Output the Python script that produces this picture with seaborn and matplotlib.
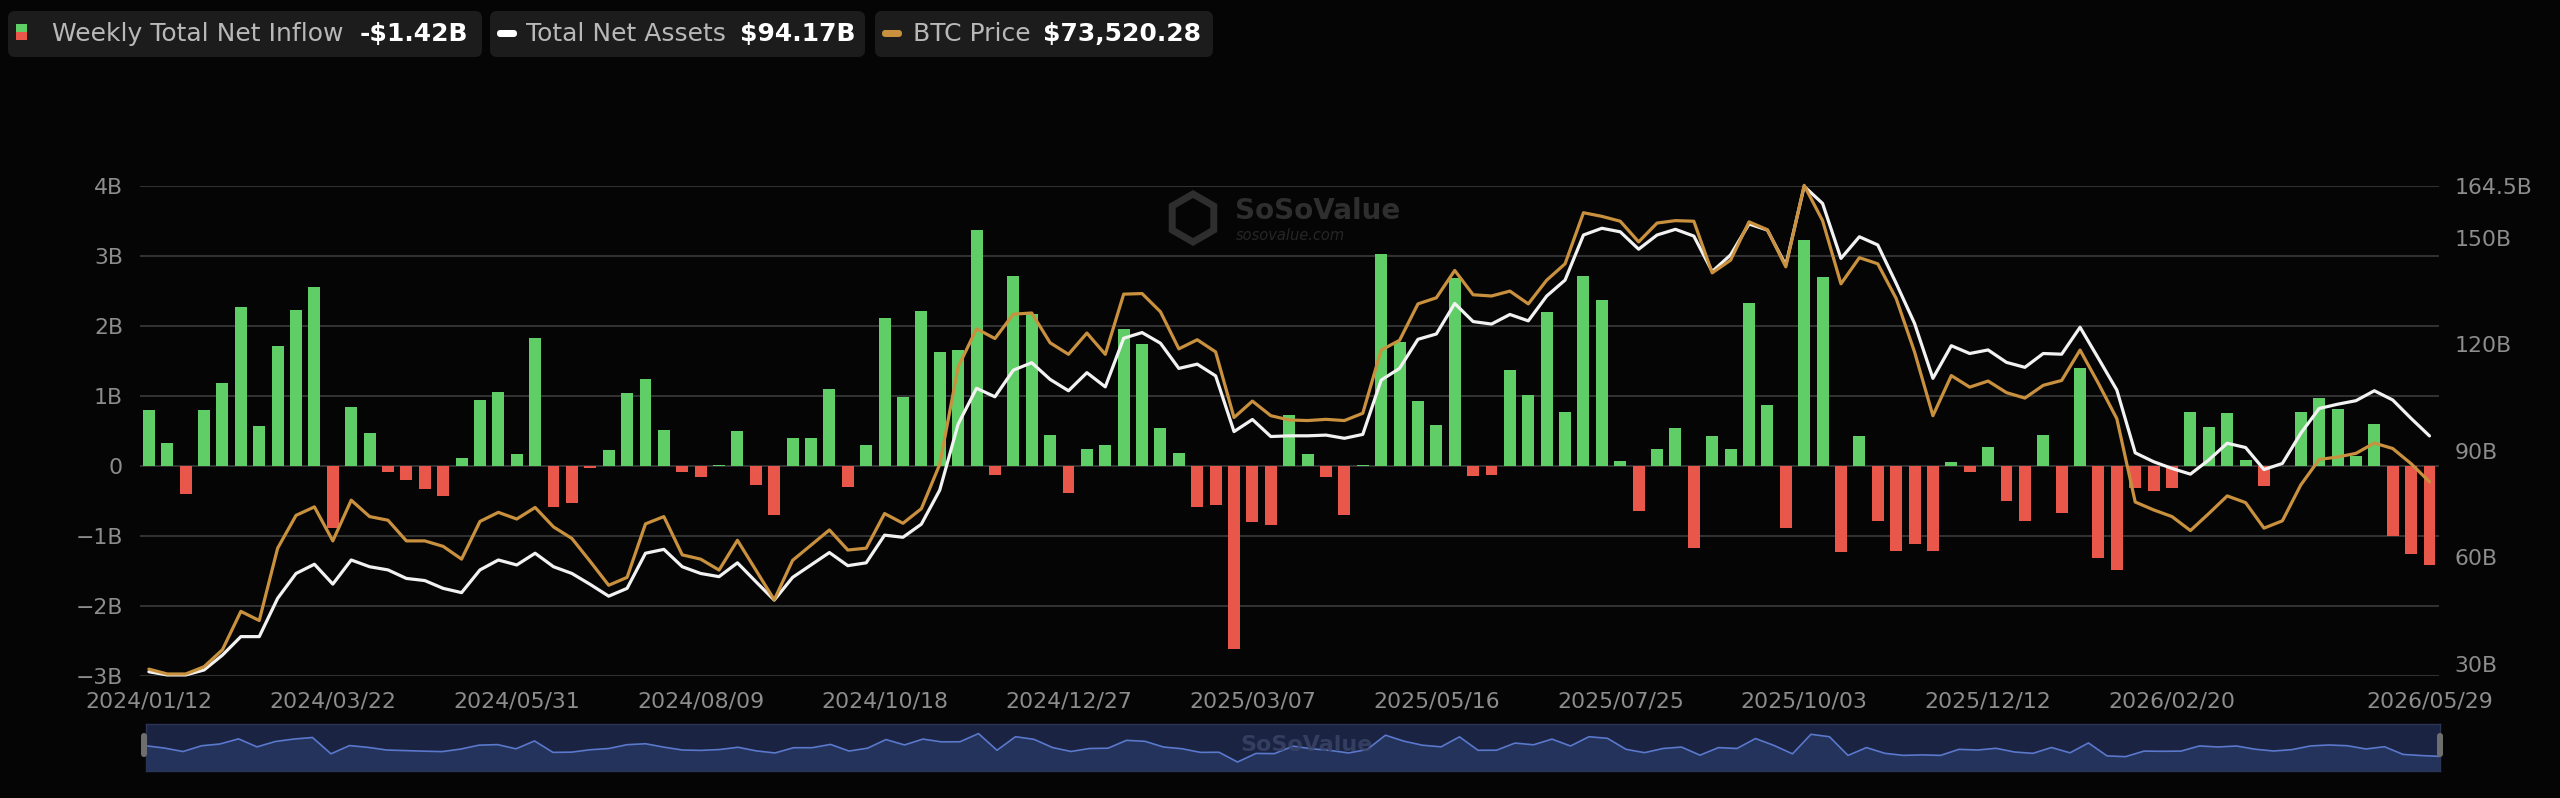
import numpy as np
import pandas as pd
import matplotlib
matplotlib.use("Agg")
import matplotlib.pyplot as plt
import seaborn as sns
from matplotlib.patches import FancyBboxPatch, RegularPolygon
from matplotlib.transforms import IdentityTransform

# weekly spot BTC ETF data, 2024/01/12 .. 2026/05/29
weeks = pd.date_range("2024-01-12", periods=125, freq="7D")

net_inflow_b = [
    0.81, 0.33, -0.40, 0.81, 1.19, 2.27, 0.58, 1.72, 2.23, 2.56,
    -0.88, 0.85, 0.48, -0.08, -0.20, -0.32, -0.42, 0.11, 0.94, 1.06,
    0.17, 1.83, -0.58, -0.53, -0.03, 0.23, 1.04, 1.24, 0.52, -0.08,
    -0.16, 0.02, 0.50, -0.27, -0.70, 0.40, 0.40, 1.10, -0.30, 0.30,
    2.12, 0.99, 2.22, 1.63, 1.66, 3.38, -0.13, 2.72, 2.17, 0.44,
    -0.39, 0.24, 0.30, 1.96, 1.75, 0.55, 0.19, -0.58, -0.55, -2.61,
    -0.80, -0.84, 0.73, 0.18, -0.16, -0.70, 0.01, 3.04, 1.78, 0.93,
    0.59, 2.69, -0.14, -0.12, 1.38, 1.02, 2.21, 0.77, 2.72, 2.38,
    0.07, -0.64, 0.24, 0.54, -1.17, 0.43, 0.24, 2.34, 0.88, -0.89,
    3.23, 2.71, -1.22, 0.43, -0.78, -1.21, -1.11, -1.21, 0.06, -0.08,
    0.28, -0.50, -0.78, 0.45, -0.67, 1.41, -1.32, -1.48, -0.31, -0.35,
    -0.31, 0.78, 0.56, 0.76, 0.09, -0.29, 0.00, 0.78, 0.98, 0.82,
    0.14, 0.61, -1.00, -1.25, -1.42,
]

total_assets_b = [
    27.7, 26.8, 26.8, 28.2, 32.4, 37.6, 37.6, 48.4, 55.4, 58.0,
    52.4, 59.2, 57.3, 56.4, 54.0, 53.4, 51.2, 50.0, 56.4, 59.2,
    57.8, 61.1, 57.3, 55.4, 52.3, 49.0, 51.2, 61.1, 62.2, 57.3,
    55.4, 54.5, 58.4, 53.1, 47.9, 54.3, 57.8, 61.3, 57.6, 58.4,
    66.2, 65.6, 69.3, 78.9, 97.5, 107.6, 105.2, 112.7, 114.8, 110.1,
    106.9, 112.0, 108.0, 121.7, 123.3, 120.3, 113.2, 114.4, 111.1, 95.4,
    98.8, 94.0, 94.2, 94.2, 94.4, 93.5, 94.6, 109.9, 113.2, 121.4,
    122.9, 131.5, 126.4, 125.7, 128.4, 126.6, 133.6, 138.1, 150.8, 152.7,
    151.7, 146.8, 150.8, 152.4, 150.5, 140.5, 145.2, 153.9, 152.2, 142.3,
    164.5, 159.7, 144.2, 150.3, 148.0, 137.2, 125.9, 110.4, 119.6, 117.4,
    118.4, 114.9, 113.5, 117.4, 117.2, 124.8, 116.0, 107.1, 89.4, 86.9,
    85.0, 83.4, 87.4, 92.1, 90.9, 84.7, 86.4, 94.9, 101.9, 103.1,
    104.1, 106.9, 104.3, 99.1, 94.17,
]

btc_price_k = [
    42.7, 41.9, 41.9, 43.1, 45.9, 52.2, 50.7, 62.6, 68.0, 69.4,
    63.8, 70.5, 67.8, 67.2, 63.8, 63.8, 62.9, 60.8, 67.0, 68.5,
    67.4, 69.3, 66.1, 64.2, 60.4, 56.5, 57.8, 66.6, 67.8, 61.5,
    60.8, 59.0, 63.9, 59.0, 54.1, 60.6, 63.1, 65.6, 62.3, 62.6,
    68.3, 66.7, 69.1, 76.4, 92.4, 98.7, 97.1, 101.1, 101.3, 96.4,
    94.5, 98.0, 94.5, 104.4, 104.5, 101.5, 95.4, 96.9, 94.9, 84.1,
    86.8, 84.4, 83.7, 83.6, 83.8, 83.6, 84.8, 95.2, 96.8, 102.8,
    103.8, 108.3, 104.3, 104.1, 104.9, 102.8, 106.7, 109.4, 117.8, 117.2,
    116.4, 113.0, 116.1, 116.5, 116.4, 107.9, 110.0, 116.3, 115.0, 108.9,
    122.3, 116.5, 106.1, 110.4, 109.4, 103.7, 94.9, 84.4, 91.0, 89.1,
    90.1, 88.2, 87.3, 89.4, 90.2, 95.2, 89.7, 83.9, 70.2, 68.9,
    67.8, 65.5, 68.3, 71.2, 70.1, 65.9, 67.1, 73.0, 77.2, 77.6,
    78.2, 79.9, 79.0, 76.5, 73.52,
]

left_ticks = [-3, -2, -1, 0, 1, 2, 3, 4]
left_labels = ["\u22123B", "\u22122B", "\u22121B", "0", "1B", "2B", "3B", "4B"]
right_ticks = [30, 60, 90, 120, 150, 164.5]
right_labels = ["30B", "60B", "90B", "120B", "150B", "164.5B"]
xtick_pos = list(range(0, 111, 10)) + [124]

BG = "#050505"
GREEN = "#5fce66"
RED = "#e8574a"
WHITE = "#f2f2f2"
GOLD = "#c9913e"
GRID = "#363636"
TICK = "#8d8d8d"

W, H = 2560, 798

sns.set_theme(style="dark", rc={"axes.facecolor": BG, "figure.facecolor": BG})
plt.rcParams["font.family"] = ["DejaVu Sans"]


def px_box(x0, y0, x1, y1):
    return [x0 / W, 1 - y1 / H, (x1 - x0) / W, (y1 - y0) / H]


idx = np.arange(len(weeks))
inflow = np.array(net_inflow_b)
df = pd.DataFrame({
    "week": idx,
    "inflow": inflow,
    "sign": np.where(inflow >= 0, "in", "out"),
    "assets": total_assets_b,
    "btc": np.array(btc_price_k) * 1000,
})

fig = plt.figure(figsize=(W / 100, H / 100), dpi=100, facecolor=BG)
ax = fig.add_axes(px_box(139.7, 186.4, 2438.7, 676))

# 1. Weekly net inflow bars
sns.barplot(data=df, x="week", y="inflow", hue="sign",
            palette={"in": GREEN, "out": RED}, dodge=False, native_scale=True,
            width=0.65, errorbar=None, legend=False, saturation=1,
            linewidth=0, ax=ax)
ax.set_ylim(-3, 4)
ax.set_yticks(left_ticks)
ax.set_yticklabels(left_labels)
ax.grid(axis="y", color=GRID, lw=1.3)
ax.grid(axis="x", visible=False)
ax.set_axisbelow(True)
ax.tick_params(axis="y", length=0, colors=TICK, labelsize=15.8, pad=12)
ax.tick_params(axis="x", length=0, colors=TICK, labelsize=15.8, pad=11)
ax.set_xlabel("")
ax.set_ylabel("")
for s in ax.spines.values():
    s.set_visible(False)

# 2. Total net assets (right axis)
ax2 = ax.twinx()
sns.lineplot(data=df, x="week", y="assets", color=WHITE, lw=2.3,
             estimator=None, ax=ax2, clip_on=False)
ax2.set_ylim(26.5, 164.5)
ax2.set_yticks(right_ticks)
ax2.set_yticklabels(right_labels)
ax2.tick_params(axis="y", length=0, colors=TICK, labelsize=15.8, pad=11.5)
ax2.grid(False)
ax2.set_ylabel("")

# 3. BTC price (hidden axis)
ax3 = ax.twinx()
sns.lineplot(data=df, x="week", y="btc", color=GOLD, lw=2.3,
             estimator=None, ax=ax3, clip_on=False)
ax3.set_ylim(41570, 122130)
ax3.set_yticks([])
ax3.grid(False)
ax3.set_ylabel("")
for a in (ax2, ax3):
    for s in a.spines.values():
        s.set_visible(False)

ax.set_xlim(-0.5, 124.5)
ax.set_xticks(xtick_pos)
ax.set_xticklabels([weeks[i].strftime("%Y/%m/%d") for i in xtick_pos])

# legend boxes at the top
ident = IdentityTransform()


def img_y(y):
    return H - y


legend_items = [
    (8, 482, 52, "Weekly Total Net Inflow", 360, "-$1.42B"),
    (490, 865, 526, "Total Net Assets", 740, "$94.17B"),
    (875, 1213, 913, "BTC Price", 1043, "$73,520.28"),
]
for x0, x1, lx, label, vx, value in legend_items:
    fig.add_artist(FancyBboxPatch((x0, img_y(57)), x1 - x0, 46,
                                  boxstyle="round,pad=0,rounding_size=7",
                                  fc="#1c1c1c", ec="none", transform=ident))
    fig.text(lx, img_y(34), label, transform=ident, color="#b8b8b8",
             fontsize=18, va="center", ha="left")
    fig.text(vx, img_y(34), value, transform=ident, color="white",
             fontsize=18, fontweight="bold", va="center", ha="left")

fig.add_artist(FancyBboxPatch((16, img_y(32)), 11, 8, boxstyle="square,pad=0",
                              fc=GREEN, ec="none", transform=ident))
fig.add_artist(FancyBboxPatch((16, img_y(40)), 11, 8, boxstyle="square,pad=0",
                              fc=RED, ec="none", transform=ident))
fig.add_artist(FancyBboxPatch((497, img_y(37)), 20, 7,
                              boxstyle="round,pad=0,rounding_size=3.5",
                              fc="white", ec="none", transform=ident))
fig.add_artist(FancyBboxPatch((882, img_y(37)), 20, 7,
                              boxstyle="round,pad=0,rounding_size=3.5",
                              fc=GOLD, ec="none", transform=ident))

# watermark
fig.add_artist(RegularPolygon((1193, img_y(218)), numVertices=6, radius=24,
                              fill=False, ec="#2e2e2e", lw=5, transform=ident))
fig.text(1235, img_y(211), "SoSoValue", transform=ident, color="#2e2e2e",
         fontsize=20, fontweight="bold", va="center", ha="left")
fig.text(1236, img_y(236), "sosovalue.com", transform=ident, color="#262626",
         fontsize=10.5, style="italic", va="center", ha="left")

# data zoom slider with the inflow shadow
ax_s = fig.add_axes(px_box(146, 724, 2440, 771))
ax_s.set_facecolor("#1a2341")
ax_s.fill_between(idx, inflow, -4.5, color="#24335c", lw=0)
sns.lineplot(data=df, x="week", y="inflow", color="#5a78cc", lw=1.2,
             estimator=None, ax=ax_s)
ax_s.set_xlim(0, 124)
ax_s.set_ylim(-4.5, 5.4)
ax_s.set_xticks([])
ax_s.set_yticks([])
ax_s.set_xlabel("")
ax_s.set_ylabel("")
for s in ax_s.spines.values():
    s.set_color("#2a3454")
    s.set_linewidth(1)
for hx in (141, 2437):
    fig.add_artist(FancyBboxPatch((hx, img_y(757)), 6, 24,
                                  boxstyle="round,pad=0,rounding_size=3",
                                  fc="#6e6e6e", ec="none", transform=ident))
fig.text(1240, img_y(745), "SoSoValue", transform=ident, color="#3a4568",
         fontsize=16, fontweight="bold", va="center", ha="left", alpha=0.8)

fig.savefig("out.png", dpi=100, facecolor=BG)
